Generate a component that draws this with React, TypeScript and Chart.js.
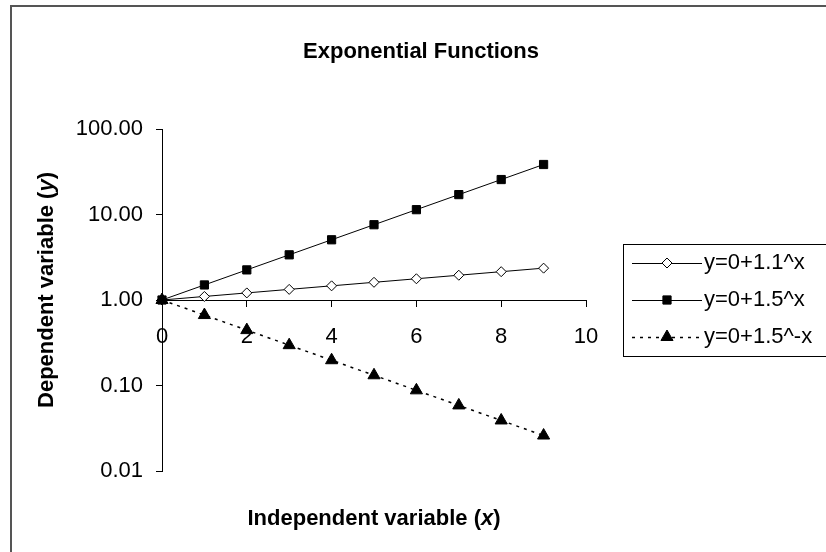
import React, { useEffect, useRef } from "react";
import { Chart, registerables } from "chart.js";

Chart.register(...registerables);

const chartTitle = "Exponential Functions";
const xTitleParts = [
  { text: "Independent variable (", italic: false },
  { text: "x", italic: true },
  { text: ")", italic: false },
];
const yTitleParts = [
  { text: "Dependent variable (", italic: false },
  { text: "y", italic: true },
  { text: ")", italic: false },
];

const xValues = [0, 1, 2, 3, 4, 5, 6, 7, 8, 9];
const series11 = [1, 1.1, 1.21, 1.331, 1.4641, 1.6105, 1.7716, 1.9487, 2.1436, 2.3579];
const series15 = [1, 1.5, 2.25, 3.375, 5.0625, 7.5938, 11.3906, 17.0859, 25.6289, 38.4434];
const series15neg = [1, 0.6667, 0.4444, 0.2963, 0.1975, 0.1317, 0.0878, 0.0585, 0.039, 0.026];
const seriesLabels = ["y=0+1.1^x", "y=0+1.5^x", "y=0+1.5^-x"];

const yTickValues = [0.01, 0.1, 1, 10, 100];
const xMin = 0;
const xMax = 10;
const xStep = 2;

const FONT = "Arial, 'Liberation Sans', sans-serif";
const TICK_SIZE = 22;
const TITLE_SIZE = 22;
const LEGEND_SIZE = 22;

function toPoints(ys: number[]) {
  return xValues.map((x, i) => ({ x, y: ys[i] }));
}

function drawParts(ctx: CanvasRenderingContext2D, parts: { text: string; italic: boolean }[], size: number) {
  let total = 0;
  const widths = parts.map((p) => {
    ctx.font = `${p.italic ? "italic " : ""}bold ${size}px ${FONT}`;
    const w = ctx.measureText(p.text).width;
    total += w;
    return w;
  });
  let x = -total / 2;
  parts.forEach((p, i) => {
    ctx.font = `${p.italic ? "italic " : ""}bold ${size}px ${FONT}`;
    ctx.fillText(p.text, x, 0);
    x += widths[i];
  });
}

function drawMarker(ctx: CanvasRenderingContext2D, style: string, r: number, x: number, y: number) {
  ctx.beginPath();
  if (style === "rect") {
    const s = Math.SQRT1_2 * r;
    ctx.rect(x - s, y - s, 2 * s, 2 * s);
  } else if (style === "rectRot") {
    ctx.moveTo(x - r, y);
    ctx.lineTo(x, y - r);
    ctx.lineTo(x + r, y);
    ctx.lineTo(x, y + r);
    ctx.closePath();
  } else if (style === "triangle") {
    const a = -Math.PI / 2;
    ctx.moveTo(x + Math.cos(a) * r, y + Math.sin(a) * r);
    ctx.lineTo(x + Math.cos(a + 2.0944) * r, y + Math.sin(a + 2.0944) * r);
    ctx.lineTo(x + Math.cos(a + 4.1888) * r, y + Math.sin(a + 4.1888) * r);
    ctx.closePath();
  }
  ctx.fill();
  ctx.stroke();
}

const decorPlugin = {
  id: "decor",
  afterDraw(chart: any) {
    const ctx: CanvasRenderingContext2D = chart.ctx;
    ctx.save();
    ctx.strokeStyle = "#555";
    ctx.lineWidth = 2;
    ctx.strokeRect(11, 6, 1000, 1000);

    ctx.fillStyle = "#000";
    ctx.textBaseline = "middle";
    ctx.textAlign = "left";
    ctx.save();
    ctx.translate(421, 52);
    drawParts(ctx, [{ text: chartTitle, italic: false }], TITLE_SIZE);
    ctx.restore();
    ctx.save();
    ctx.translate(374, 519);
    drawParts(ctx, xTitleParts, TITLE_SIZE);
    ctx.restore();
    ctx.save();
    ctx.translate(47, 290);
    ctx.rotate(-Math.PI / 2);
    drawParts(ctx, yTitleParts, TITLE_SIZE);
    ctx.restore();

    const L = 623, T = 244, W = 205, H = 112;
    ctx.strokeStyle = "#000";
    ctx.lineWidth = 1;
    ctx.strokeRect(L + 0.5, T + 0.5, W, H);
    const rowY = [263, 300, 337];
    chart.data.datasets.forEach((ds: any, i: number) => {
      const y = rowY[i];
      ctx.save();
      ctx.strokeStyle = ds.borderColor;
      ctx.lineWidth = ds.borderWidth;
      ctx.setLineDash(ds.borderDash || []);
      ctx.beginPath();
      ctx.moveTo(632, y + 0.5);
      ctx.lineTo(702, y + 0.5);
      ctx.stroke();
      ctx.restore();
      ctx.save();
      ctx.fillStyle = ds.pointBackgroundColor;
      ctx.strokeStyle = ds.pointBorderColor;
      ctx.lineWidth = ds.pointBorderWidth;
      drawMarker(ctx, ds.pointStyle, ds.pointRadius, 667, y);
      ctx.restore();
      ctx.fillStyle = "#000";
      ctx.font = `${LEGEND_SIZE}px ${FONT}`;
      ctx.textAlign = "left";
      ctx.textBaseline = "middle";
      ctx.fillText(ds.label, 704, y);
    });
    ctx.restore();
  },
};

export default function App() {
  const ref = useRef<HTMLCanvasElement | null>(null);
  useEffect(() => {
    if (!ref.current) return;
    const chart = new Chart(ref.current, {
      type: "line",
      data: {
        datasets: [
          {
            label: seriesLabels[0],
            data: toPoints(series11),
            borderColor: "#000",
            borderWidth: 1,
            pointStyle: "rectRot",
            pointRadius: 5,
            pointBackgroundColor: "#fff",
            pointBorderColor: "#000",
            pointBorderWidth: 1,
            clip: false as any,
            order: 2,
          },
          {
            label: seriesLabels[1],
            data: toPoints(series15),
            borderColor: "#000",
            borderWidth: 1,
            pointStyle: "rect",
            pointRadius: 5.8,
            pointBackgroundColor: "#000",
            pointBorderColor: "#000",
            pointBorderWidth: 1,
            clip: false as any,
            order: 0,
          },
          {
            label: seriesLabels[2],
            data: toPoints(series15neg),
            borderColor: "#000",
            borderWidth: 1.5,
            borderDash: [3, 5],
            pointStyle: "triangle",
            pointRadius: 7,
            pointBackgroundColor: "#000",
            pointBorderColor: "#000",
            pointBorderWidth: 1,
            clip: false as any,
            order: 1,
          },
        ],
      },
      options: {
        responsive: false,
        animation: false,
        layout: { padding: { left: 0, top: 129, right: 240, bottom: 81 } },
        plugins: {
          legend: { display: false },
          title: { display: false },
          tooltip: { enabled: false },
        },
        scales: {
          x: {
            type: "linear",
            min: xMin,
            max: xMax,
            position: { y: 1 } as any,
            ticks: {
              stepSize: xStep,
              font: { size: TICK_SIZE, family: FONT },
              color: "#000",
              padding: 18,
              maxRotation: 0,
            },
            grid: { drawOnChartArea: false, drawTicks: true, tickLength: 6, color: "#000" },
            border: { display: true, color: "#000", width: 1 },
          },
          y: {
            type: "logarithmic",
            min: 0.01,
            max: 100,
            afterFit: (s: any) => {
              s.width = 162;
            },
            afterBuildTicks: (s: any) => {
              s.ticks = yTickValues.map((v) => ({ value: v }));
            },
            ticks: {
              autoSkip: false,
              font: { size: TICK_SIZE, family: FONT },
              color: "#000",
              padding: 13,
              callback: (v: any) => Number(v).toFixed(2),
            },
            grid: { drawOnChartArea: false, drawTicks: true, tickLength: 6, color: "#000" },
            border: { display: true, color: "#000", width: 1 },
          },
        },
      },
      plugins: [decorPlugin],
    });
    return () => chart.destroy();
  }, []);
  return (
    <div style={{ position: "absolute", left: 0, top: 0, width: 826, height: 552, background: "#fff" }}>
      <canvas ref={ref} width={826} height={552} style={{ display: "block" }} />
    </div>
  );
}
